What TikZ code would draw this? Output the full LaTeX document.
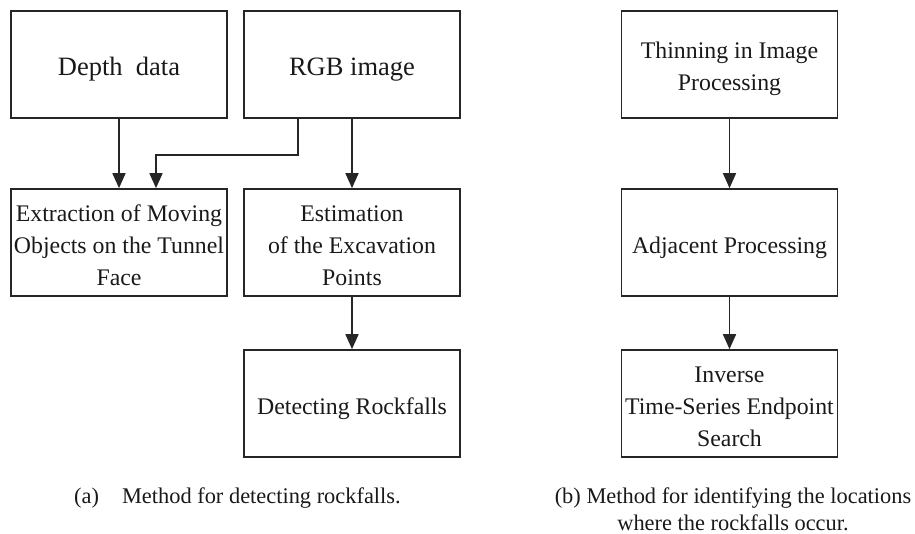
\documentclass[tikz,border=0pt]{standalone}
\usepackage{fontspec}
\setmainfont{Liberation Serif}
\usetikzlibrary{arrows.meta}
\begin{document}
\begin{tikzpicture}[x=1pt,y=-1pt,
  box/.style={draw=black!85, line width=1.7pt, minimum width=216pt, minimum height=107pt,
    inner sep=0pt, align=center, font=\fontsize{23.8}{32}\selectfont, text=black!90},
  big/.style={font=\fontsize{26.5}{32}\selectfont},
  one/.style={text height=22pt, text depth=0pt},
  two/.style={text height=51pt, text depth=0pt},
  three/.style={text height=85pt, text depth=0pt},
  arr/.style={draw=black!85, line width=1.7pt, -{Triangle[length=15pt,width=13pt]}},
  captext/.style={font=\fontsize{22.4}{27}\selectfont, inner sep=0pt, text=black!90}]
\path[use as bounding box] (0,0) rectangle (915,533);

\node[box,big,one] (depth) at (119,64.5) {Depth~~data};
\node[box,big,one] (rgb) at (352,64.5) {RGB image};
\node[box,three] (extr) at (119,242.5) {Extraction of Moving\\Objects on the Tunnel\\Face};
\node[box,three] (est) at (352,242.5) {Estimation\\of the Excavation\\Points};
\node[box,one] (det) at (352,403.5) {Detecting Rockfalls};

\node[box,two] (thin) at (729.5,64.5) {Thinning in Image\\Processing};
\node[box,one] (adj) at (729.5,242.5) {Adjacent Processing};
\node[box,three] (inv) at (729.5,403.5) {Inverse\\Time-Series Endpoint\\Search};

\draw[arr] (depth.south) -- (extr.north);
\draw[arr] ([xshift=-54pt]rgb.south) -- ++(0,36) -| ([xshift=37pt]extr.north);
\draw[arr] (rgb.south) -- (est.north);
\draw[arr] (est.south) -- (det.north);
\draw[arr] (thin.south) -- (adj.north);
\draw[arr] (adj.south) -- (inv.north);

\node[captext, anchor=base west] (capa) at (74,503) {(a)\hspace{23pt}Method for detecting rockfalls.};
\node[captext, anchor=base, align=center] (capb) at (733,530) {(b) Method for identifying the locations\\where the rockfalls occur.};
\end{tikzpicture}
\end{document}
